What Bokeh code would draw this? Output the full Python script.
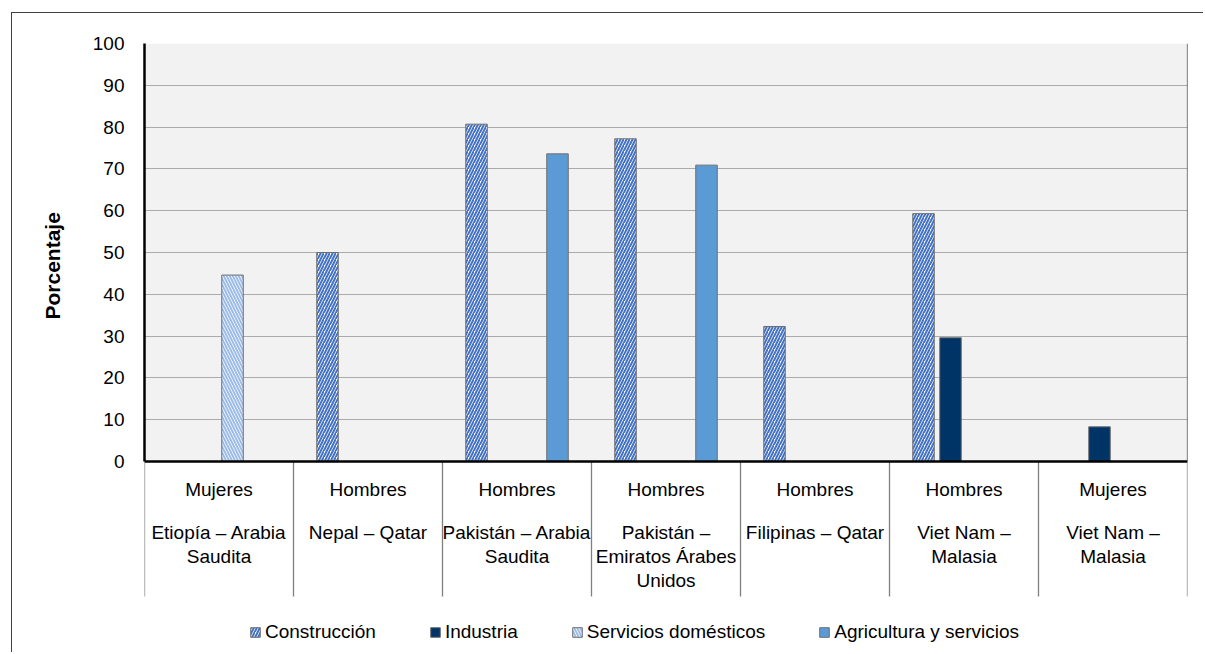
from bokeh.plotting import figure
from bokeh.models import Range1d, FixedTicker, Legend, LegendItem, ColumnDataSource, Title
from bokeh.core.properties import value
from bokeh.embed import file_html
from bokeh.resources import INLINE

# --- data -------------------------------------------------------------
groups = ["Mujeres", "Hombres", "Hombres", "Hombres", "Hombres", "Hombres", "Mujeres"]
routes = [
    "Etiopía – Arabia\nSaudita",
    "Nepal – Qatar",
    "Pakistán – Arabia\nSaudita",
    "Pakistán –\nEmiratos Árabes\nUnidos",
    "Filipinas – Qatar",
    "Viet Nam –\nMalasia",
    "Viet Nam –\nMalasia",
]
series_names = ["Construcción", "Industria", "Servicios domésticos", "Agricultura y servicios"]
construccion = [None, 50.0, 80.7, 77.2, 32.3, 59.3, None]
industria = [None, None, None, None, None, 29.6, 8.3]
servicios_domesticos = [44.6, None, None, None, None, None, None]
agricultura_servicios = [None, None, 73.6, 70.9, None, None, None]
y_ticks = list(range(0, 101, 10))

# --- geometry ---------------------------------------------------------
FONT = "Liberation Sans"
FS = "19px"
N = len(groups)
PX_UNIT_Y = 4.18          # pixels per percentage point
CAT_PX = 149.0            # pixels per category
Y_MIN = -(192.0 / PX_UNIT_Y)  # room below zero for the category labels and legend
SLOT = 27.0 / CAT_PX
BAR_W = 21.5 / CAT_PX


def px_below_zero(px):
    return -px / PX_UNIT_Y


p = figure(
    width=1192, height=640,
    x_range=Range1d(0, N), y_range=Range1d(Y_MIN, 100),
    output_backend="svg", toolbar_location=None,
    min_border_left=132, min_border_right=17, min_border_top=30, min_border_bottom=0,
    background_fill_color="white", border_fill_color="white",
    outline_line_color=None,
    margin=(12, 0, 0, 11),
    styles={"border-left": "1.5px solid #404040", "border-top": "1.5px solid #404040"},
)
p.xaxis.visible = False
p.xgrid.visible = False

# plot area background and grid
p.quad(left=0, right=N, bottom=0, top=100, fill_color="#F2F2F2", line_color=None, level="image")
p.ygrid.ticker = FixedTicker(ticks=y_ticks)
p.ygrid.grid_line_color = "#ABABAB"
p.ygrid.grid_line_width = 1

ax = p.yaxis[0]
ax.ticker = FixedTicker(ticks=y_ticks)
ax.bounds = (0, 100)
ax.axis_line_color = "black"
ax.axis_line_width = 2.5
ax.major_tick_line_color = None
ax.major_tick_out = 0
ax.major_tick_in = 0
ax.minor_tick_line_color = None
ax.minor_tick_out = 0
ax.major_label_standoff = 20
ax.major_label_text_font = FONT
ax.major_label_text_font_size = FS
ax.major_label_text_color = "black"

# vertical title, anchored at its lower end and lifted from the frame bottom
p.add_layout(Title(text="Porcentaje", align="left", offset=334, standoff=52,
                   text_font=FONT, text_font_size="21px", text_font_style="bold",
                   text_color="black"), "left")

# bars
styles = [
    dict(fill_color="white", hatch_pattern="/", hatch_color="#4472C4", hatch_scale=6, hatch_weight=2),
    dict(fill_color="#003366"),
    dict(fill_color="white", hatch_pattern="\\", hatch_color="#9DBDE8", hatch_scale=6, hatch_weight=2),
    dict(fill_color="#5B9BD5"),
]
all_series = [construccion, industria, servicios_domesticos, agricultura_servicios]
renderers = []
for k, (vals, st) in enumerate(zip(all_series, styles)):
    xs, tops = [], []
    for i, v in enumerate(vals):
        if v is not None:
            xs.append(i + 0.5 + (k - 1.5) * SLOT)
            tops.append(v)
    src = ColumnDataSource(dict(x=xs, top=tops))
    r = p.vbar(x="x", top="top", bottom=0, width=BAR_W, source=src,
               line_color="#6E6E6E", line_width=1, **st)
    renderers.append(r)

# plot border and category axis
p.segment(x0=[N], y0=[0], x1=[N], y1=[100], line_color="#262626", line_width=1.2)
bx = list(range(N + 1))
p.segment(x0=bx, y0=[0] * len(bx), x1=bx, y1=[px_below_zero(135)] * len(bx),
          line_color="#7F7F7F", line_width=1.3)
p.segment(x0=[0], y0=[0], x1=[N], y1=[0], line_color="black", line_width=2.5)

# category labels: group row, then the route split into rows
cx = [i + 0.5 for i in range(N)]
text_kw = dict(text_align="center", text_baseline="alphabetic", text_font=value(FONT),
               text_font_size=FS, text_color="black")
p.text(x=cx, y=[px_below_zero(28)] * N, text=groups, **text_kw)
route_rows = [r.split("\n") for r in routes]
for j in range(max(len(r) for r in route_rows)):
    xs = [cx[i] for i, r in enumerate(route_rows) if len(r) > j]
    ts = [r[j] for r in route_rows if len(r) > j]
    p.text(x=xs, y=[px_below_zero(71 + 24 * j)] * len(xs), text=ts, **text_kw)

legend = Legend(
    items=[LegendItem(label=n, renderers=[r]) for n, r in zip(series_names, renderers)],
    orientation="horizontal", location=(105, 10),
    glyph_width=12, glyph_height=12, label_standoff=4, spacing=53,
    padding=0, margin=0, border_line_color=None, background_fill_alpha=0,
    label_text_font=FONT, label_text_font_size=FS, label_text_color="black",
    label_height=22,
)
p.add_layout(legend)

open("out.html", "w").write(file_html(p, INLINE))
